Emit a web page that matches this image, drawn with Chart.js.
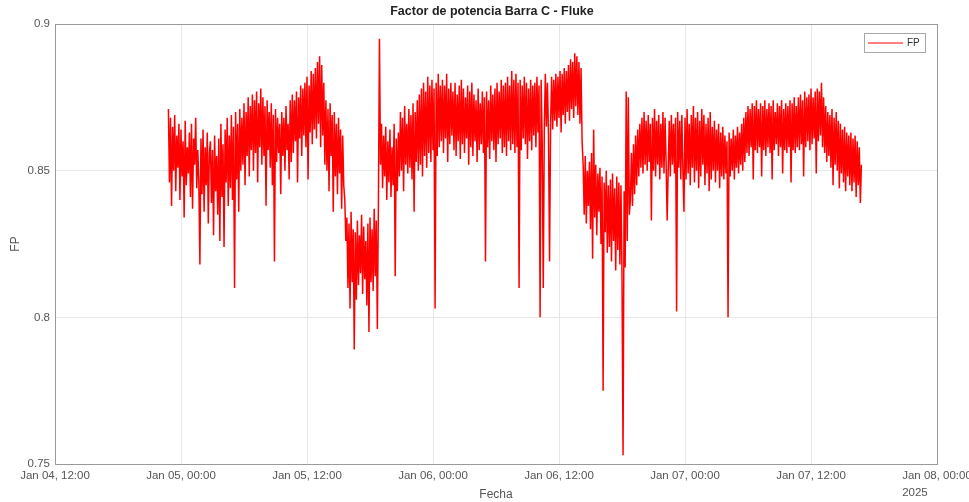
<!DOCTYPE html>
<html>
<head>
<meta charset="utf-8">
<script src="https://cdn.jsdelivr.net/npm/chart.js@4.4.1/dist/chart.umd.min.js"></script>
<style>
    html, body { margin: 0; padding: 0; background: #fff; }
</style>
</head>
<body>
<canvas id="grafico" width="969" height="502"></canvas>
<script>
// etiquetas del eje X (cada 12 horas desde Jan 04, 12:00)
const etiquetasX = ["Jan 04, 12:00", "Jan 05, 00:00", "Jan 05, 12:00", "Jan 06, 00:00",
    "Jan 06, 12:00", "Jan 07, 00:00", "Jan 07, 12:00", "Jan 08, 00:00"];
const horasTicksX = [0, 12, 24, 36, 48, 60, 72, 84];
const ticksY = [0.75, 0.8, 0.85, 0.9];
const titulo = "Factor de potencia Barra C - Fluke";
const anio = "2025";

// muestras del Fluke: primera a las 10.8 h (Jan 04 22:48), una cada 6 min
const inicioHoras = 10.8;
const pasoHoras = 0.1;
const valoresFP = [
    .871,.846,.868,.838,.865,.850,.869,.843,.862,.851,
    .866,.840,.864,.848,.860,.834,.867,.845,.858,.849,
    .863,.841,.866,.837,.861,.852,.868,.844,.857,.846,
    .818,.861,.842,.864,.836,.858,.845,.863,.832,.856,
    .860,.839,.857,.828,.862,.843,.855,.835,.861,.826,
    .866,.841,.859,.824,.864,.846,.868,.838,.862,.844,
    .869,.840,.865,.810,.870,.847,.866,.836,.871,.850,
    .868,.852,.873,.845,.870,.855,.875,.848,.872,.857,
    .876,.850,.874,.856,.877,.846,.873,.858,.878,.852,
    .875,.855,.872,.838,.874,.857,.870,.851,.873,.845,
    .869,.819,.871,.853,.868,.856,.866,.842,.870,.855,
    .868,.850,.872,.857,.866,.847,.874,.853,.876,.856,
    .874,.860,.877,.846,.875,.861,.879,.855,.878,.862,
    .880,.858,.882,.847,.879,.863,.884,.859,.883,.864,
    .885,.861,.887,.866,.889,.858,.886,.862,.880,.852,
    .874,.850,.871,.843,.873,.855,.869,.836,.870,.848,
    .866,.842,.868,.849,.864,.837,.862,.845,.840,.826,
    .834,.810,.832,.803,.836,.812,.830,.789,.829,.806,
    .833,.811,.828,.815,.835,.808,.831,.813,.826,.804,
    .832,.795,.834,.812,.830,.809,.837,.814,.833,.796,
    .838,.895,.852,.866,.844,.862,.848,.865,.840,.860,
    .846,.864,.841,.858,.845,.866,.814,.861,.843,.863,
    .848,.870,.850,.868,.843,.872,.852,.866,.849,.871,
    .851,.869,.847,.873,.836,.870,.853,.874,.850,.876,
    .852,.878,.848,.880,.855,.877,.851,.882,.856,.879,
    .853,.881,.857,.878,.803,.880,.855,.883,.858,.879,
    .860,.881,.856,.879,.861,.883,.853,.878,.859,.880,
    .862,.877,.857,.880,.855,.876,.860,.879,.854,.881,
    .859,.878,.856,.875,.861,.879,.852,.877,.858,.880,
    .855,.876,.860,.874,.853,.878,.857,.873,.859,.877,
    .856,.875,.819,.877,.858,.874,.854,.879,.860,.876,
    .857,.878,.853,.880,.859,.877,.861,.881,.856,.879,
    .858,.880,.855,.882,.860,.879,.857,.884,.859,.881,
    .856,.883,.858,.880,.810,.881,.857,.879,.861,.882,
    .859,.880,.854,.878,.860,.881,.857,.879,.862,.880,
    .858,.882,.863,.879,.800,.881,.860,.810,.864,.883,
    .865,.880,.862,.819,.866,.882,.864,.881,.867,.883,
    .865,.882,.868,.884,.863,.883,.869,.885,.866,.884,
    .870,.886,.867,.888,.871,.887,.868,.890,.872,.889,
    .869,.887,.866,.885,.860,.852,.835,.855,.832,.850,
    .838,.853,.830,.856,.820,.864,.834,.852,.828,.849,
    .836,.851,.825,.848,.775,.846,.829,.850,.822,.845,
    .824,.847,.819,.849,.826,.844,.816,.848,.823,.846,
    .818,.845,.814,.753,.843,.817,.877,.826,.875,.835,
    .840,.856,.838,.859,.842,.862,.845,.864,.848,.866,
    .851,.868,.849,.870,.852,.867,.850,.869,.853,.866,
    .833,.868,.850,.871,.848,.867,.852,.869,.847,.866,
    .851,.870,.849,.868,.853,.833,.850,.867,.848,.869,
    .852,.866,.849,.868,.802,.870,.851,.867,.847,.869,
    .850,.836,.868,.847,.871,.849,.866,.845,.869,.851,
    .872,.846,.868,.850,.870,.844,.867,.848,.871,.852,
    .869,.845,.866,.849,.868,.843,.870,.847,.865,.850,
    .867,.846,.864,.850,.866,.844,.863,.848,.865,.847,
    .862,.849,.860,.800,.863,.848,.861,.850,.864,.847,
    .862,.851,.865,.849,.863,.852,.866,.850,.868,.853,
    .870,.856,.872,.855,.871,.858,.873,.847,.872,.857,
    .874,.856,.871,.858,.873,.848,.872,.857,.874,.855,
    .871,.858,.873,.856,.872,.847,.874,.857,.870,.859,
    .873,.855,.872,.858,.874,.849,.871,.857,.873,.856,
    .872,.858,.874,.846,.873,.857,.875,.856,.872,.858,
    .875,.857,.876,.859,.874,.848,.877,.858,.875,.860,
    .876,.857,.878,.859,.875,.861,.877,.849,.878,.860,
    .877,.862,.880,.858,.875,.856,.872,.853,.870,.855,
    .869,.851,.871,.845,.868,.852,.870,.850,.867,.844,
    .866,.849,.864,.846,.865,.843,.863,.848,.862,.845,
    .863,.843,.861,.846,.862,.841,.860,.845,.858,.839,
    .852
];

// puntos {x: horas, y: FP}
const puntos = valoresFP.map((v, i) => ({ x: inicioHoras + i * pasoHoras, y: v }));

const fuente = "'Liberation Sans', Arial, sans-serif";

// titulo, caja de ejes, leyenda y el año bajo la ultima etiqueta
const extras = {
    id: "extras",
    afterDraw(chart) {
        const ctx = chart.ctx;
        const a = chart.chartArea;
        ctx.save();
        ctx.strokeStyle = "#9a9a9a";
        ctx.lineWidth = 1;
        ctx.strokeRect(Math.round(a.left) + 0.5, Math.round(a.top) + 0.5,
            Math.round(a.right - a.left), Math.round(a.bottom - a.top));

        ctx.fillStyle = "#222";
        ctx.font = "bold 12.5px " + fuente;
        ctx.textAlign = "center";
        ctx.textBaseline = "middle";
        ctx.fillText(titulo, (a.left + a.right) / 2 - 4, 12);

        // leyenda
        const lx = a.right - 73, ly = a.top + 9;
        ctx.fillStyle = "#fff";
        ctx.fillRect(lx, ly, 61, 19);
        ctx.strokeStyle = "#a8a8a8";
        ctx.strokeRect(lx + 0.5, ly + 0.5, 61, 19);
        ctx.strokeStyle = "#ff0000";
        ctx.beginPath();
        ctx.moveTo(lx + 4, ly + 10);
        ctx.lineTo(lx + 39, ly + 10);
        ctx.stroke();
        ctx.fillStyle = "#333";
        ctx.font = "10px " + fuente;
        ctx.textAlign = "left";
        ctx.fillText("FP", lx + 43, ly + 10);

        // año
        const sx = chart.scales.x;
        const ult = etiquetasX[etiquetasX.length - 1];
        ctx.font = "11.5px " + fuente;
        ctx.fillStyle = "#555";
        const xa = sx.getPixelForValue(horasTicksX[horasTicksX.length - 1]) - ctx.measureText(ult).width / 2;
        ctx.fillText(anio, xa, 493);
        ctx.restore();
    },
};

new Chart(document.getElementById("grafico"), {
    type: "line",
    data: {
        datasets: [
            {
                label: "FP",
                data: puntos,
                borderColor: "#ff0000",
                borderWidth: 1.5,
                pointRadius: 0,
                tension: 0,
                fill: false,
            },
        ],
    },
    options: {
        responsive: false,
        animation: false,
        events: [],
        layout: { padding: { top: 24, right: 32, left: 0, bottom: 0 } },
        plugins: {
            legend: { display: false },
            tooltip: { enabled: false },
        },
        scales: {
            x: {
                type: "linear",
                min: 0,
                max: 84,
                afterBuildTicks: (s) => { s.ticks = horasTicksX.map((v) => ({ value: v })); },
                afterFit: (s) => { s.height = 38; s.paddingLeft = 0; s.paddingRight = 0; },
                grid: { color: "#e6e6e6", drawTicks: false },
                border: { color: "#9a9a9a" },
                ticks: {
                    color: "#555",
                    font: { family: fuente, size: 11.5 },
                    padding: 5,
                    maxRotation: 0,
                    autoSkip: false,
                    callback: (v) => etiquetasX[horasTicksX.indexOf(v)],
                },
                title: {
                    display: true,
                    text: "Fecha",
                    color: "#555",
                    font: { family: fuente, size: 12 },
                    padding: { top: 0, bottom: 0 },
                },
            },
            y: {
                min: 0.75,
                max: 0.9,
                afterBuildTicks: (s) => { s.ticks = ticksY.map((v) => ({ value: v })); },
                afterFit: (s) => { s.width = 55; },
                grid: { color: "#e6e6e6", drawTicks: false },
                border: { color: "#9a9a9a" },
                ticks: {
                    color: "#555",
                    font: { family: fuente, size: 11.5 },
                    padding: 5,
                    callback: (v) => String(Math.round(v * 100) / 100),
                },
                title: {
                    display: true,
                    text: "FP",
                    color: "#555",
                    font: { family: fuente, size: 12 },
                    padding: { top: 8, bottom: 0 },
                },
            },
        },
    },
    plugins: [extras],
});
</script>
</body>
</html>
